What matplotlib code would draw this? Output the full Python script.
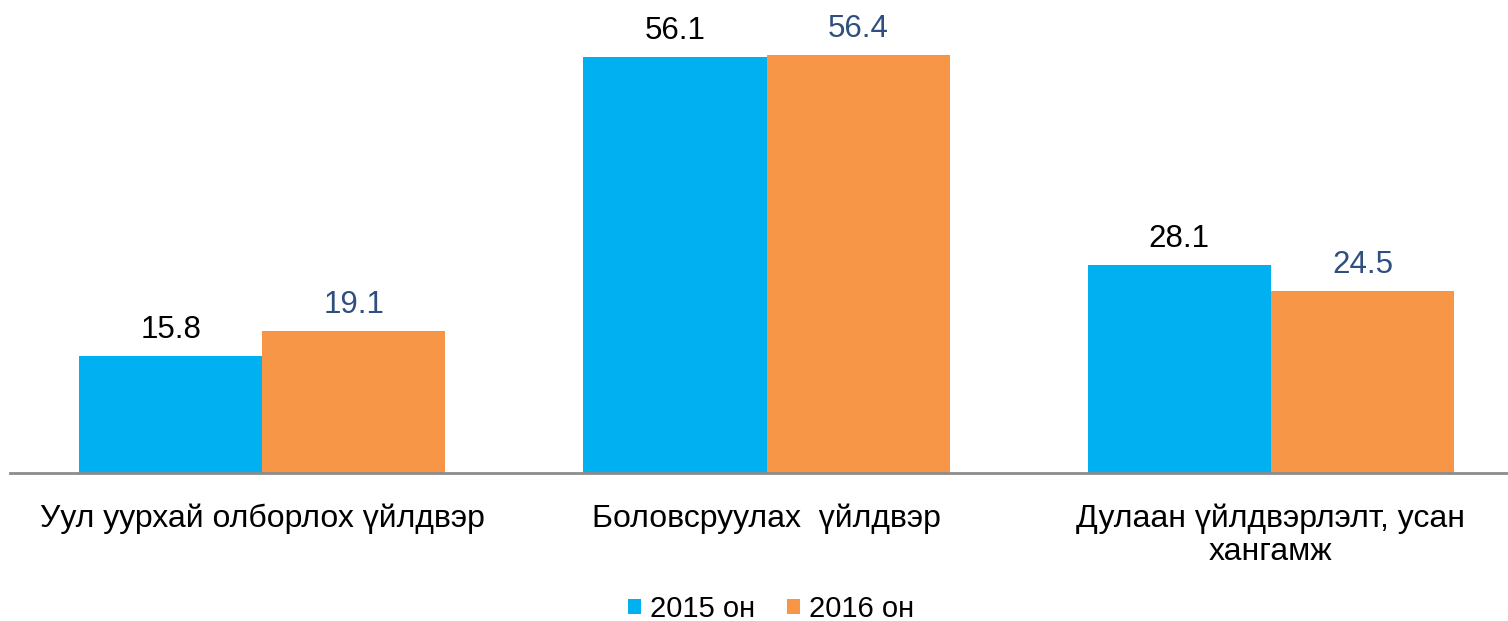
import matplotlib
matplotlib.use("Agg")
import matplotlib.pyplot as plt
import numpy as np

plt.rcParams['font.family'] = ['Liberation Sans', 'DejaVu Sans']

categories = ["Уул уурхай олборлох үйлдвэр", "Боловсруулах  үйлдвэр",
              "Дулаан үйлдвэрлэлт, усан\nхангамж"]
series_names = ["2015 он", "2016 он"]
values_2015 = [15.8, 56.1, 28.1]
values_2016 = [19.1, 56.4, 24.5]

c2015 = "#00B0F0"
c2016 = "#F79646"
lbl2015 = "#000000"
lbl2016 = "#2E4F7F"

W, H = 1508, 621
fig = plt.figure(figsize=(W/100, H/100), dpi=100)
ax = fig.add_axes([10/W, 148/H, 1 - 10/W, 473/H])

x = np.arange(len(categories))
bw = 0.363
b1 = ax.bar(x - bw/2, values_2015, bw, color=c2015, label=series_names[0])
b2 = ax.bar(x + bw/2, values_2016, bw, color=c2016, label=series_names[1])

for rect, v in zip(b1, values_2015):
    ax.annotate(f"{v:.1f}", (rect.get_x() + rect.get_width()/2, v),
                xytext=(0, 8), textcoords="offset points",
                ha="center", va="bottom", fontsize=22.5, color=lbl2015)
for rect, v in zip(b2, values_2016):
    ax.annotate(f"{v:.1f}", (rect.get_x() + rect.get_width()/2, v),
                xytext=(0, 8), textcoords="offset points",
                ha="center", va="bottom", fontsize=22.5, color=lbl2016)

ax.set_xlim(-0.5, 2.5 - 15/504)
ax.set_ylim(0, 473/7.413)
ax.set_xticks(x)
ax.set_xticklabels(categories, fontsize=23, linespacing=1.12)
ax.tick_params(axis='x', length=0, pad=22)
ax.set_yticks([])
for s in ['top', 'right', 'left']:
    ax.spines[s].set_visible(False)
ax.spines['bottom'].set_color('#8C8C8C')
ax.spines['bottom'].set_linewidth(2)

fig.legend(handles=[b1, b2], labels=series_names, loc='center',
           bbox_to_anchor=(771/W, 1 - 609/H), ncol=2, frameon=False,
           fontsize=21, handlelength=0.45, handleheight=0.45,
           handletextpad=0.3, columnspacing=1.1)

fig.savefig("out.png", dpi=100)
